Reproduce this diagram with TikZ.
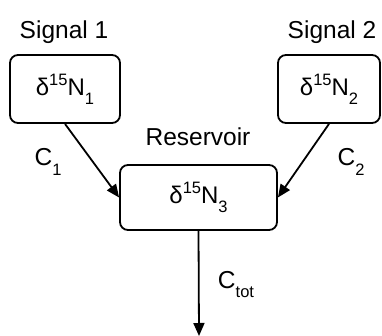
\documentclass[tikz,border=0pt]{standalone}
\usepackage{fontspec}
\setmainfont{Liberation Sans}
\usetikzlibrary{arrows.meta}
\newcommand{\lowidx}[1]{\raisebox{-0.38em}{\fontsize{16.5}{18}\selectfont #1}}
\newcommand{\highidx}[1]{\raisebox{0.42em}{\fontsize{16.5}{18}\selectfont #1}}
\begin{document}
\begin{tikzpicture}[x=1pt,y=-1pt,
  pool/.style={draw, line width=1.8pt, rounded corners=8pt, inner sep=0pt,
    font=\fontsize{24}{26}\selectfont},
  lbl/.style={font=\fontsize{24.5}{26}\selectfont, inner sep=0pt, anchor=base},
  flow/.style={line width=1.8pt, -{Triangle[length=13pt,width=11pt]}}]
\useasboundingbox (0,0) rectangle (382,336);

% source and reservoir boxes
\node[pool, minimum width=110pt, minimum height=68pt] (s1) at (65,89)
  {δ\highidx{15}N\lowidx{1}};
\node[pool, minimum width=102pt, minimum height=68pt] (s2) at (329,89)
  {δ\highidx{15}N\lowidx{2}};
\node[pool, minimum width=157pt, minimum height=65pt] (res) at (198.5,197.5)
  {δ\highidx{15}N\lowidx{3}};

% titles
\node[lbl] (t1) at (64,39) {Signal 1};
\node[lbl] (t2) at (332,39) {Signal 2};
\node[lbl] (t3) at (198,146) {Reservoir};

% fluxes
\coordinate (out) at (199,336);
\draw[flow] (s1.south) -- (res.west);
\draw[flow] (s2.south) -- (res.east);
\draw[flow] (res.south) -- (out);

% flux labels
\node[lbl] (c1) at (48,166) {C\lowidx{1}};
\node[lbl] (c2) at (351,166) {C\lowidx{2}};
\node[lbl] (ct) at (236,288) {C\lowidx{tot}};
\end{tikzpicture}
\end{document}
